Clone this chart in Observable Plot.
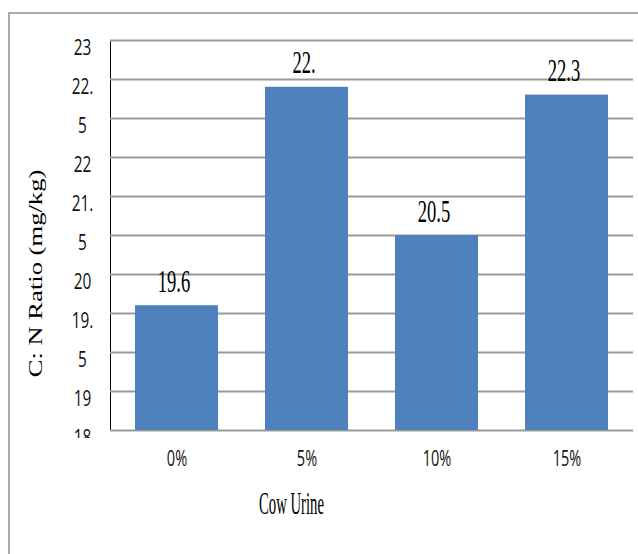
<!DOCTYPE html>
<html>
<head>
<meta charset="utf-8">
<script src="https://cdn.jsdelivr.net/npm/d3@7"></script>
<script src="https://cdn.jsdelivr.net/npm/@observablehq/plot@0.6"></script>
<style>
  html, body { margin: 0; padding: 0; background: #fff; overflow: hidden; }
  #wrap { position: relative; width: 638px; height: 554px; overflow: hidden; }
  #border { position: absolute; left: 8px; top: 12px; width: 700px; height: 700px; border: 2px solid #a9a9a9; box-sizing: border-box; }
  #chart { position: absolute; left: 0; top: 0; }
</style>
</head>
<body>
<div id="wrap"><div id="border"></div><div id="chart"></div></div>
<script>
// C:N ratio by cow urine dose
const categories = ["0%", "5%", "10%", "15%"];
const values = [19.6, 22.4, 20.5, 22.3];
const valueLabels = ["19.6", "22.", "20.5", "22.3"];
const yTicks = [23, 22.5, 22, 21.5, 21, 20.5, 20, 19.5, 19, 18.5, 18];
const yTickLabels = ["23", "22.", "5", "22", "21.", "5", "20", "19.", "5", "19", "18"];
const yDomain = [18, 23];
const xTitle = "Cow Urine";
const yTitle = "C: N Ratio (mg/kg)";

const bars = categories.map((c, i) => ({category: c, value: values[i], label: valueLabels[i]}));
const ticks = yTicks.map((t, i) => ({value: t, label: yTickLabels[i]}));

const chart = Plot.plot({
  width: 638,
  height: 554,
  marginTop: 40,
  marginRight: 5,
  marginBottom: 124,
  marginLeft: 110,
  style: {background: "transparent", overflow: "visible", color: "#000"},
  x: {domain: categories, paddingInner: 0.36, paddingOuter: 0.18, axis: null},
  y: {domain: yDomain, ticks: [], line: true, label: null, tickSize: 0},
  marks: [
    Plot.ruleY(yTicks, {stroke: "#9a9a9a", strokeWidth: 2}),
    Plot.barY(bars, {x: "category", y1: yDomain[0], y2: "value", fill: "#4f81bd"}),
    // text marks, in this order: bar values, y tick labels, x tick labels, x title, y title
    Plot.text(bars, {
      x: "category", y: "value", text: "label",
      lineAnchor: "bottom", dx: -3, dy: -14,
      fontFamily: "Liberation Serif", fontSize: 31, fill: "#000"
    }),
    Plot.text(ticks, {
      y: "value", text: "label", frameAnchor: "left",
      dx: -28, dy: 7, textAnchor: "middle",
      fontFamily: "Open Sans", fontSize: 22, fill: "#111"
    }),
    Plot.text(categories, {
      x: (d) => d, text: (d) => d, frameAnchor: "bottom", dy: 35,
      fontFamily: "Open Sans", fontSize: 22, fill: "#111"
    }),
    Plot.text([xTitle], {
      text: (d) => d, frameAnchor: "bottom", dx: -80.5, dy: 83,
      lineAnchor: "bottom", textAnchor: "middle",
      fontFamily: "Liberation Serif", fontSize: 32, fill: "#000"
    }),
    Plot.text([yTitle], {
      text: (d) => d, frameAnchor: "left", rotate: -90, dx: -75, dy: 38,
      textAnchor: "middle", lineAnchor: "middle",
      fontFamily: "Liberation Serif", fontSize: 19, fill: "#000"
    })
  ]
});

document.getElementById("chart").appendChild(chart);

const [valueGroup, yTickGroup, xTickGroup, xTitleGroup, yTitleGroup] =
  chart.querySelectorAll('g[aria-label="text"]');

// Narrow (or stretch) each text along its own writing direction, about its centre.
function squeeze(group, sx) {
  if (!group) return;
  group.querySelectorAll("text").forEach((t) => {
    const b = t.getBBox();
    const ox = b.x + b.width / 2, oy = b.y + b.height / 2;
    const tr = t.getAttribute("transform") || "";
    t.setAttribute(
      "transform",
      `${tr} translate(${ox},${oy}) scale(${sx},1) translate(${-ox},${-oy})`
    );
  });
}
squeeze(valueGroup, 0.6);
squeeze(yTickGroup, 0.7);
squeeze(xTickGroup, 0.66);
squeeze(xTitleGroup, 0.46);
squeeze(yTitleGroup, 1.4);

// Tick labels are cut off just below the plot area.
const ns = "http://www.w3.org/2000/svg";
const defs = document.createElementNS(ns, "defs");
const clip = document.createElementNS(ns, "clipPath");
clip.setAttribute("id", "tick-clip");
const rect = document.createElementNS(ns, "rect");
rect.setAttribute("x", -50);
rect.setAttribute("y", -50);
rect.setAttribute("width", 160);
rect.setAttribute("height", 488);
clip.appendChild(rect);
defs.appendChild(clip);
chart.insertBefore(defs, chart.firstChild);
if (yTickGroup) {
  const wrapper = document.createElementNS(ns, "g");
  wrapper.setAttribute("clip-path", "url(#tick-clip)");
  yTickGroup.parentNode.insertBefore(wrapper, yTickGroup);
  wrapper.appendChild(yTickGroup);
}
</script>
</body>
</html>
